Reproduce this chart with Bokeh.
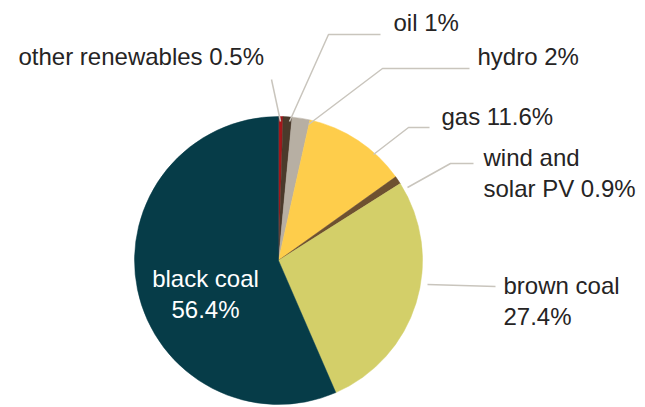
import math
from bokeh.plotting import figure
from bokeh.models import Range1d, ColumnDataSource
from bokeh.core.properties import value
from bokeh.embed import file_html
from bokeh.resources import INLINE

# ---- data ----
categories = ["other renewables", "oil", "hydro", "gas", "wind and solar PV", "brown coal", "black coal"]
shares = [0.5, 1.0, 2.0, 11.6, 0.9, 27.4, 56.4]
labels = ["other renewables 0.5%", "oil 1%", "hydro 2%", "gas 11.6%",
          "wind and\nsolar PV 0.9%", "brown coal\n27.4%", "black coal\n56.4%"]
colors = ["#a3171b", "#4a3a2b", "#b7afa3", "#fecd4b", "#6e5130", "#d3cf69", "#063c48"]

W, H = 645, 407


def px(x):
    return x


def py(y):
    return H - y


p = figure(width=W, height=H, output_backend="svg", toolbar_location=None,
           x_range=Range1d(0, W), y_range=Range1d(0, H), min_border=0)
p.axis.visible = False
p.grid.visible = False
p.outline_line_color = None
p.background_fill_color = "white"
p.border_fill_color = "white"

# wedges
total = sum(shares)
starts, ends = [], []
cum = 0.0
for s in shares:
    starts.append(math.pi / 2 - 2 * math.pi * cum / total)
    cum += s
    ends.append(math.pi / 2 - 2 * math.pi * cum / total)

cx, cy, r = px(278), py(260), 144
src = ColumnDataSource(dict(start=starts, end=ends, color=colors, cat=categories))
p.wedge(x=cx, y=cy, radius=r, radius_units="screen", start_angle="start", end_angle="end",
        direction="clock", fill_color="color", line_color="color", line_width=0.5, source=src)

# leader lines (page pixel coords)
leaders = [
    [(271, 79), (280, 121)],
    [(380, 34), (328, 34), (289, 121)],
    [(469, 68), (382, 68), (308, 124)],
    [(429, 127), (408, 127), (373, 154)],
    [(473, 163), (450, 163), (407, 187)],
    [(495, 286), (427, 284)],
]
p.multi_line(xs=[[px(a) for a, b in L] for L in leaders],
             ys=[[py(b) for a, b in L] for L in leaders],
             line_color="#c9c5bd", line_width=1.5)

font = value("Liberation Sans")
MID = 12.5  # distance from baseline to text middle
# outside labels: (x, baseline y) of first line
lab_pos = [(18, 68), (393, 34), (477, 68), (441, 128), (483, 169), (503, 297)]
for (x, y), t in zip(lab_pos, labels[:6]):
    lines = t.split("\n")
    for i, ln in enumerate(lines):
        p.text(x=[px(x)], y=[py(y + 31 * i - MID)], text=[ln], text_font=font,
               text_font_size="24px", text_color="#262424",
               text_baseline="middle", text_align="left")

# inside label
for i, ln in enumerate(labels[6].split("\n")):
    p.text(x=[px(205)], y=[py(290 + 31 * i - MID)], text=[ln], text_font=font,
           text_font_size="24px", text_color="white",
           text_baseline="middle", text_align="center")

open("out.html", "w").write(file_html(p, INLINE))
